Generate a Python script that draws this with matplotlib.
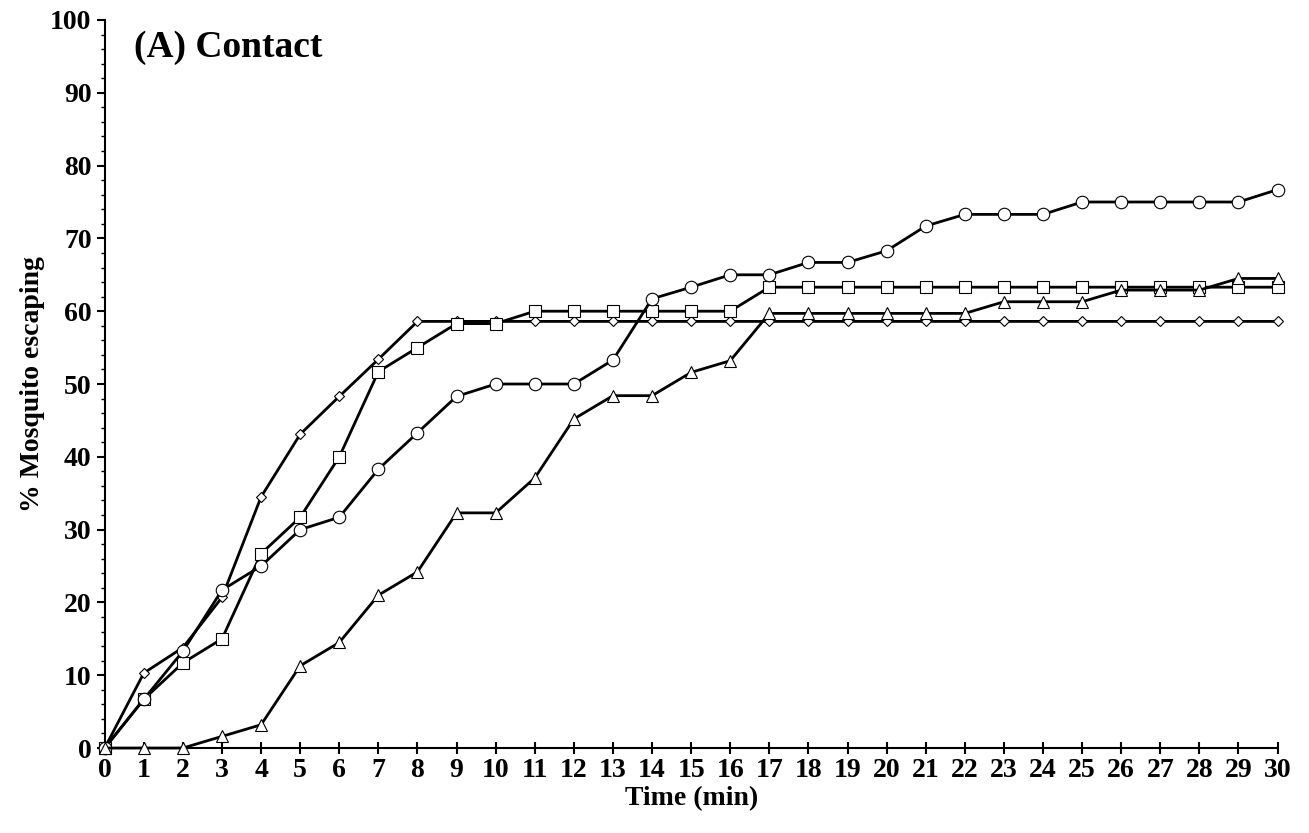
import matplotlib
matplotlib.use("Agg")
import matplotlib.pyplot as plt
from matplotlib.ticker import MultipleLocator

plt.rcParams["font.family"] = ["Liberation Serif"]
plt.rcParams["font.weight"] = "bold"

time = list(range(31))
circle = [0, 6.7, 13.3, 21.7, 25, 30, 31.7, 38.3, 43.3, 48.3, 50, 50, 50, 53.3, 61.7, 63.3,
          65, 65, 66.7, 66.7, 68.3, 71.7, 73.3, 73.3, 73.3, 75, 75, 75, 75, 75, 76.7]
square = [0, 6.7, 11.7, 15, 26.7, 31.7, 40, 51.7, 55, 58.3, 58.3, 60, 60, 60, 60, 60,
          60, 63.3, 63.3, 63.3, 63.3, 63.3, 63.3, 63.3, 63.3, 63.3, 63.3, 63.3, 63.3, 63.3, 63.3]
diamond = [0, 10.3, 13.8, 20.7, 34.5, 43.1, 48.3, 53.4] + [58.6] * 23
triangle = [0, 0, 0, 1.6, 3.2, 11.3, 14.5, 21, 24.2, 32.3, 32.3, 37.1, 45.2, 48.4, 48.4, 51.6,
            53.2, 59.7, 59.7, 59.7, 59.7, 59.7, 59.7, 61.3, 61.3, 61.3, 62.9, 62.9, 62.9, 64.5, 64.5]

fig, ax = plt.subplots(figsize=(13.09, 8.33), dpi=100)
fig.subplots_adjust(left=0.08, right=0.976, top=0.976, bottom=0.102)

for data, m, ms in [(diamond, "D", 5.5), (square, "s", 9), (circle, "o", 9), (triangle, "^", 9)]:
    ax.plot(time, data, color="black", lw=2, marker=m, ms=ms, mfc="white", mec="black", mew=0.8,
            clip_on=False, zorder=3)

ax.set_xlim(0, 30)
ax.set_ylim(0, 100)
ax.xaxis.set_major_locator(MultipleLocator(1))
ax.yaxis.set_major_locator(MultipleLocator(10))
ax.yaxis.set_minor_locator(MultipleLocator(2))
ax.tick_params(axis="both", labelsize=20, width=1.5, length=6)
ax.tick_params(axis="y", which="minor", length=3, width=1)
ax.tick_params(axis="x", direction="inout", length=8)
for s in ["top", "right"]:
    ax.spines[s].set_visible(False)
for s in ["left", "bottom"]:
    ax.spines[s].set_linewidth(1.5)

ax.set_xlabel("Time (min)", fontsize=20, fontweight="bold", labelpad=2)
ax.set_ylabel("% Mosquito escaping", fontsize=20, fontweight="bold")
ax.text(0.025, 0.95, "(A) Contact", transform=ax.transAxes, fontsize=27, fontweight="bold")

fig.savefig("out.png")
